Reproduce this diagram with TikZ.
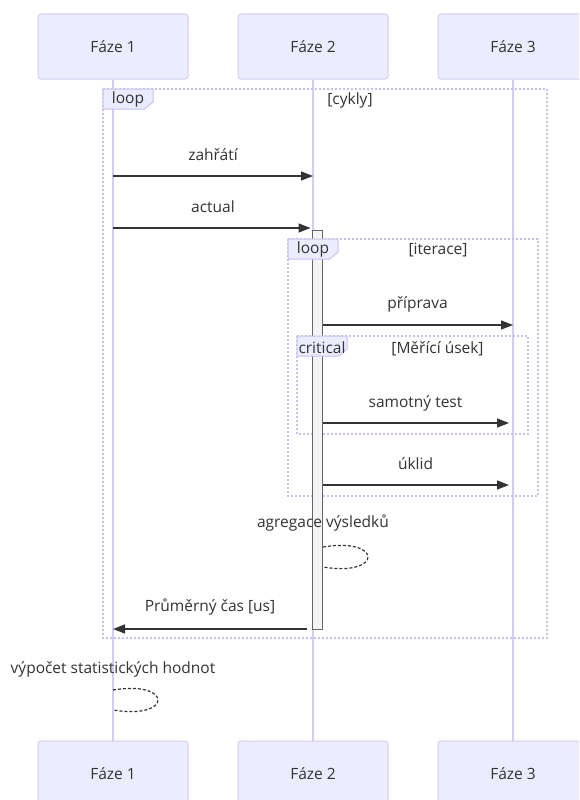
\documentclass[tikz,border=0pt]{standalone}
\usepackage{fontspec}
\setmainfont{Open Sans}
\usetikzlibrary{arrows.meta}
\definecolor{actfill}{HTML}{ECECFF}
\definecolor{actline}{HTML}{D6CBF2}
\definecolor{framecol}{HTML}{C9C0F0}
\definecolor{txt}{HTML}{333333}
\definecolor{barfill}{HTML}{F4F4F4}
\definecolor{barline}{HTML}{666666}
\begin{document}
\begin{tikzpicture}[x=1pt,y=-1pt,
    every node/.style={font=\fontsize{15.5}{18}\selectfont,text=txt,inner sep=0pt},
    actor/.style={draw=actline,fill=actfill,line width=1pt,rounded corners=3pt,minimum width=150pt,minimum height=65pt},
    lifeline/.style={draw=actline,line width=1.5pt},
    frame/.style={draw=framecol,line width=1.5pt,dash pattern=on 2pt off 2pt},
    tab/.style={draw=framecol,fill=actfill,line width=1pt},
    msg/.style={draw=txt,line width=1.5pt,-{Triangle[length=12pt,width=9pt]}},
    selfloop/.style={draw=txt,line width=1.2pt,dash pattern=on 3pt off 2pt},
    bar/.style={draw=barline,fill=barfill,line width=1pt}]
  \clip (0,0) rectangle (579,800);
  \fill[white] (0,0) rectangle (579,800);
  % actors top and bottom
  \node[actor] (f1) at (113,46.5) {Fáze 1};
  \node[actor] (f2) at (313,46.5) {Fáze 2};
  \node[actor] (f3) at (513,46.5) {Fáze 3};
  \node[actor] (f1b) at (113,773.5) {Fáze 1};
  \node[actor] (f2b) at (313,773.5) {Fáze 2};
  \node[actor] (f3b) at (513,773.5) {Fáze 3};
  \draw[lifeline] (f1) -- (f1b);
  \draw[lifeline] (f2) -- (f2b);
  \draw[lifeline] (f3) -- (f3b);
  % frames
  \draw[frame] (103,89) rectangle (547,638);
  \draw[frame] (288,239) rectangle (538,496);
  \draw[frame] (297,336) rectangle (528,434);
  % activation
  \draw[bar] (312.5,230) rectangle (322.5,629);
  % frame tabs
  \draw[tab] (103,89) -- (153,89) -- (153,102) -- (144.6,109) -- (103,109) -- cycle;
  \node (lp1) at (128,99.5) {loop};
  \node (cy) at (350,100.5) {[cykly]};
  \draw[tab] (288,239) -- (338,239) -- (338,252) -- (329.6,259) -- (288,259) -- cycle;
  \node (lp2) at (313,249.5) {loop};
  \node (it) at (438,250.5) {[iterace]};
  \draw[tab] (297,336) -- (347,336) -- (347,349) -- (338.6,356) -- (297,356) -- cycle;
  \node (cr) at (322,348) {critical};
  \node (mu) at (437.5,349) {[Měřící úsek]};
  % messages
  \coordinate (m1a) at (113,176);   \coordinate (m1b) at (313,176);
  \coordinate (m2a) at (113,228);   \coordinate (m2b) at (310.5,228);
  \coordinate (m3a) at (322.5,325); \coordinate (m3b) at (513,325);
  \coordinate (m4a) at (322.5,423); \coordinate (m4b) at (509,423);
  \coordinate (m5a) at (322.5,485); \coordinate (m5b) at (509,485);
  \coordinate (m6a) at (307,629);   \coordinate (m6b) at (113,629);
  \draw[msg] (m1a) -- (m1b);
  \draw[msg] (m2a) -- (m2b);
  \draw[msg] (m3a) -- (m3b);
  \draw[msg] (m4a) -- (m4b);
  \draw[msg] (m5a) -- (m5b);
  \draw[msg] (m6a) -- (m6b);
  \node (t1) at (213,155) {zahřátí};
  \node (t2) at (213,207) {actual};
  \node (t3) at (417.5,304) {příprava};
  \node (t4) at (415.5,403) {samotný test};
  \node (t5) at (415.5,463.5) {úklid};
  \node (t6) at (210,607) {Průměrný čas [us]};
  % self calls
  \node (t7) at (323,523) {agregace výsledků};
  \coordinate (s1a) at (323,547); \coordinate (s1b) at (323,567);
  \draw[selfloop] (s1a) .. controls +(60,-10) and +(60,10) .. (s1b);
  \node (t8) at (113,669) {výpočet statistických hodnot};
  \coordinate (s2a) at (113,690); \coordinate (s2b) at (113,710);
  \draw[selfloop] (s2a) .. controls +(60,-10) and +(60,10) .. (s2b);
\end{tikzpicture}
\end{document}
